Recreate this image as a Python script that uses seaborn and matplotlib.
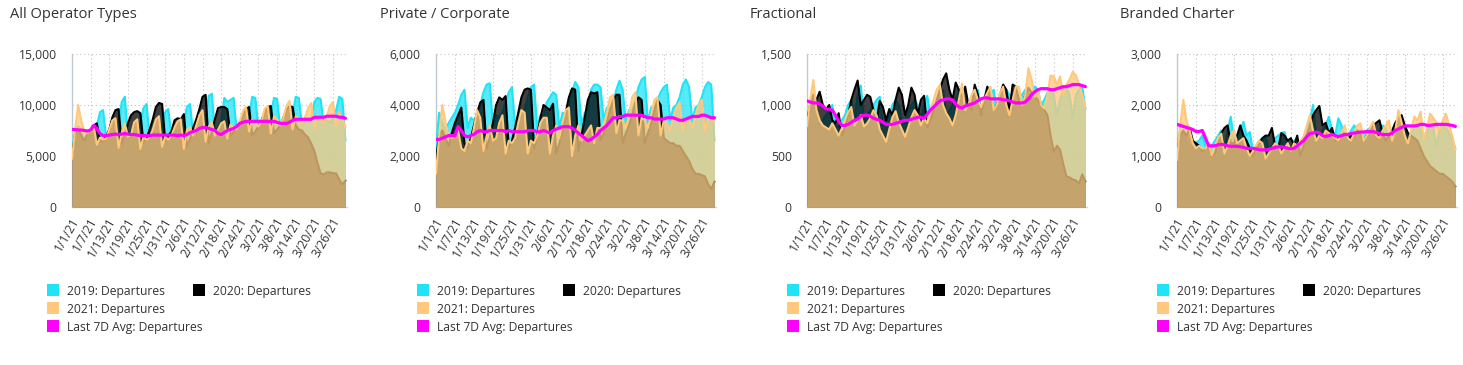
import numpy as np
import matplotlib
matplotlib.use("Agg")
import matplotlib.pyplot as plt
from matplotlib.patches import Rectangle
from matplotlib.ticker import FuncFormatter
import matplotlib.transforms as mtrans
import seaborn as sns

sns.set_theme(style="white")
plt.rcParams["font.family"] = ["Open Sans", "DejaVu Sans"]

C2019 = "#1fe3f6"
C2020 = "#000000"
C2021 = "#ffc87c"
CAVG = "#ff00ff"
TXT = "#333333"

# ---- data (daily departures, 1/1/21 .. 3/30/21, prior years aligned) ----
TICK_LABELS = ["1/1/21", "1/7/21", "1/13/21", "1/19/21", "1/25/21", "1/31/21", "2/6/21",
               "2/12/21", "2/18/21", "2/24/21", "3/2/21", "3/8/21", "3/14/21", "3/20/21", "3/26/21"]

all_2019 = [5500, 7600, 7900, 7400, 6700, 7300, 7000, 7200, 7900, 9300,
            9500, 6800, 7400, 7100, 7300, 8000, 10300, 10800, 6900, 7500,
            7200, 7400, 8100, 9700, 10100, 6800, 7400, 7100, 7400, 8000,
            9300, 9600, 6900, 7500, 7300, 7600, 8300, 9800, 10100, 7000,
            7700, 7400, 7800, 8600, 10900, 11100, 7300, 7900, 8300, 10700,
            10300, 10500, 10700, 7500, 8000, 7800, 8200, 8900, 10800, 10700,
            7700, 8200, 8000, 8400, 9000, 10700, 10600, 7800, 8300, 8100,
            8500, 9100, 10800, 10700, 8000, 8400, 8200, 8600, 10300, 10700,
            10600, 8100, 8500, 8300, 8700, 9500, 10800, 10600, 6500]
all_2020 = [5000, 7200, 7600, 7000, 6500, 7200, 7600, 8000, 8200, 6600,
            6400, 6900, 7600, 8800, 9500, 9600, 6200, 7200, 8200, 9000,
            9300, 9400, 9200, 6300, 6700, 7600, 8600, 9800, 10200, 10100,
            6500, 7000, 7400, 8500, 8700, 8600, 9100, 5900, 6700, 7800,
            8600, 9600, 10800, 11000, 6200, 7400, 8600, 9700, 9800, 9800,
            9600, 7000, 7400, 7600, 8100, 8900, 9600, 9800, 7000, 7400,
            7900, 8500, 9300, 9800, 9900, 7200, 7600, 8000, 8700, 9500,
            9900, 9800, 8000, 7600, 7500, 7100, 6800, 6200, 5500, 4300,
            3300, 3200, 3400, 3400, 3300, 3300, 2700, 2200, 2600]
all_2021 = [4700, 7600, 10000, 8400, 7400, 7200, 7600, 7900, 6100, 6800,
            6600, 6700, 7600, 8500, 8700, 5800, 7300, 8200, 6900, 7100,
            8300, 8600, 5700, 6900, 6600, 6800, 7600, 8600, 8900, 5900,
            6900, 6600, 7000, 7800, 8400, 8600, 5700, 7600, 7800, 7000,
            8000, 9000, 9500, 6400, 7900, 8300, 7000, 7600, 8200, 8400,
            6700, 8100, 7700, 7600, 8400, 9400, 9800, 7400, 8600, 8300,
            7900, 8400, 9600, 9900, 7200, 8900, 8600, 8000, 8700, 9900,
            10400, 7600, 8900, 8700, 8100, 8800, 9700, 10200, 7600, 9000,
            8800, 8200, 8900, 9900, 10300, 7900, 9300, 8700, 7800]
all_avg = [7600, 7600, 7550, 7550, 7500, 7450, 7550, 8000, 7700, 7200,
           7000, 7000, 7050, 7100, 7150, 7100, 7150, 7200, 7150, 7100,
           7100, 7050, 7000, 7000, 7000, 7000, 7050, 7050, 7050, 7050,
           7050, 7050, 7050, 7050, 7000, 7050, 7000, 7100, 7300, 7400,
           7500, 7700, 7800, 7800, 7700, 7600, 7500, 7200, 7100, 7300,
           7500, 7600, 7700, 7900, 8200, 8300, 8400, 8400, 8400, 8400,
           8400, 8400, 8400, 8400, 8400, 8400, 8300, 8200, 8200, 8200,
           8300, 8500, 8600, 8600, 8600, 8600, 8600, 8600, 8800, 8800,
           8800, 8800, 8900, 8900, 8900, 8900, 8800, 8800, 8700]

pc_2019 = [2400, 3700, 3300, 3000, 3300, 3500, 3700, 4000, 4400, 4600,
           3100, 3500, 3400, 3600, 4000, 4500, 4800, 4850, 3200, 3600,
           3500, 3700, 4100, 4500, 4700, 3200, 3600, 3500, 3800, 4300,
           4700, 4800, 3100, 3600, 3500, 4100, 4300, 4500, 4400, 3100,
           3700, 3600, 3900, 4500, 4900, 4700, 3200, 3700, 3800, 4600,
           4800, 4800, 4700, 3400, 3900, 3800, 4100, 4600, 4950, 4600,
           3300, 3800, 3800, 4200, 4700, 5000, 5100, 3300, 3900, 3900,
           4200, 4500, 4700, 4800, 3400, 3900, 4000, 4300, 4800, 5000,
           4700, 3400, 3900, 4000, 4300, 4700, 4900, 4800, 2600]
pc_2020 = [1900, 2800, 3000, 2700, 2400, 2900, 3300, 3600, 3900, 2500,
           2300, 2700, 3200, 3700, 4100, 4200, 2300, 2700, 3300, 4000,
           4300, 4200, 4350, 2300, 2600, 3100, 3700, 4300, 4600, 4650,
           4600, 2300, 2800, 3500, 4000, 3900, 3800, 4050, 2100, 2500,
           3000, 3700, 4300, 4650, 4600, 2200, 2800, 3500, 4200, 4500,
           4450, 4500, 2600, 2900, 3300, 3800, 4200, 4400, 4400, 2500,
           2900, 3200, 3600, 4100, 4300, 4200, 2500, 2900, 3300, 3800,
           4200, 4000, 2700, 2600, 2500, 2500, 2400, 2400, 2200, 2000,
           1800, 1500, 1300, 1300, 1250, 1200, 900, 700, 1000]
pc_2021 = [1300, 2800, 4000, 3300, 2800, 2700, 2800, 3000, 2300, 2200,
           2600, 2500, 3100, 3800, 3500, 2200, 2800, 3200, 2600, 2700,
           3300, 3600, 2100, 2600, 2500, 2700, 3300, 3800, 3700, 2100,
           2600, 2500, 2800, 3300, 3500, 3500, 2100, 2800, 3200, 2700,
           3300, 3800, 3900, 2000, 2800, 3200, 2600, 2800, 3000, 3200,
           2500, 3100, 3100, 3200, 3700, 4300, 4400, 2900, 3400, 3400,
           3100, 3600, 4300, 4500, 2800, 3500, 3400, 3100, 3600, 4200,
           4300, 2800, 3400, 3300, 3000, 3500, 3900, 4100, 3000, 3500,
           3400, 3100, 3600, 4000, 4200, 3000, 3500, 3400, 3350]
pc_avg = [2650, 2650, 2700, 2750, 2800, 2800, 2800, 3150, 3000, 2800,
          2750, 2800, 2850, 2950, 3000, 2950, 2950, 3000, 3000, 3000,
          3000, 3000, 2950, 3000, 2950, 2950, 2950, 2950, 2950, 3000,
          3000, 3000, 2950, 2950, 3000, 2950, 2900, 3000, 3050, 3100,
          3150, 3150, 3150, 3100, 3000, 2900, 2800, 2700, 2600, 2650,
          2750, 2850, 3000, 3100, 3200, 3350, 3500, 3500, 3550, 3550,
          3600, 3600, 3600, 3600, 3600, 3600, 3550, 3500, 3500, 3450,
          3450, 3450, 3450, 3500, 3500, 3500, 3450, 3400, 3400, 3450,
          3500, 3550, 3550, 3550, 3600, 3600, 3550, 3500, 3500]

fr_2019 = [850, 1000, 1050, 950, 800, 850, 900, 950, 1000, 780,
           800, 850, 900, 1000, 1050, 850, 1100, 1190, 850, 900,
           950, 1000, 1050, 1080, 800, 850, 900, 1000, 1050, 1000,
           820, 850, 950, 1000, 1050, 1000, 850, 1000, 1090, 900,
           950, 1000, 1100, 1150, 900, 950, 1000, 1050, 1150, 1000,
           900, 950, 1050, 1100, 1150, 950, 1000, 1050, 1100, 1150,
           950, 1000, 1050, 1150, 1100, 950, 1000, 1050, 1100, 1150,
           1000, 1100, 1180, 1150, 1000, 1050, 1120, 1150, 1100, 900,
           1050, 1150, 1180, 1100, 870, 1100, 1150, 1180, 960]
fr_2020 = [850, 1000, 1100, 1050, 1130, 1000, 950, 1000, 850, 820,
           920, 700, 780, 900, 1050, 1150, 1240, 1000, 1050, 1100,
           1080, 950, 850, 1040, 980, 850, 960, 900, 1050, 1170,
           1100, 900, 1000, 1170, 1100, 900, 1050, 1090, 780, 850,
           950, 1050, 1150, 1250, 1310, 1150, 1050, 1220, 1150, 1080,
           1180, 1000, 950, 1200, 1100, 900, 1050, 1180, 1100, 950,
           1000, 1100, 1200, 1150, 950, 1200, 1180, 1050, 1000, 1100,
           1170, 1120, 1080, 1050, 1000, 950, 900, 700, 540, 600,
           560, 420, 300, 290, 270, 260, 230, 320, 250]
fr_2021 = [790, 1050, 1245, 950, 850, 800, 780, 760, 820, 760,
           700, 770, 850, 930, 980, 800, 850, 900, 790, 820,
           870, 950, 900, 760, 700, 640, 760, 880, 940, 830,
           760, 690, 780, 880, 950, 900, 800, 870, 820, 950,
           1050, 1150, 1195, 1000, 920, 870, 800, 900, 1050, 1210,
           950, 1000, 1100, 1150, 1050, 980, 1060, 1120, 1180, 950,
           1000, 1120, 1180, 1000, 900, 1050, 1180, 1180, 1000, 1100,
           1360, 1250, 1080, 1150, 1000, 965, 1100, 1290, 1280, 1200,
           1280, 1100, 1200, 1250, 1325, 1290, 1200, 1100, 980]
fr_avg = [1040, 1030, 1020, 1020, 1010, 990, 960, 960, 950, 900,
          840, 800, 800, 810, 830, 850, 860, 890, 900, 900,
          890, 870, 860, 850, 830, 810, 810, 810, 820, 830,
          840, 850, 850, 860, 870, 880, 880, 870, 910, 950,
          980, 1010, 1040, 1050, 1060, 1060, 1050, 1010, 980, 970,
          990, 1000, 1010, 1020, 1040, 1060, 1070, 1070, 1060, 1060,
          1060, 1060, 1050, 1050, 1040, 1030, 1020, 1020, 1020, 1030,
          1060, 1100, 1130, 1150, 1160, 1160, 1160, 1150, 1150, 1160,
          1170, 1180, 1180, 1190, 1200, 1200, 1200, 1190, 1180]

bc_2019 = [1240, 1500, 1450, 1300, 1200, 1150, 1250, 1300, 1400, 1200,
           1100, 1200, 1300, 1400, 1500, 1100, 1500, 1770, 1300, 1400,
           1500, 1670, 1400, 1470, 1100, 1200, 1300, 1350, 1400, 1100,
           1200, 1350, 1400, 1450, 1470, 1200, 1150, 1300, 1350, 1200,
           1300, 1500, 1700, 2000, 1400, 1350, 1500, 1600, 1770, 1500,
           1400, 1740, 1600, 1300, 1400, 1500, 1600, 1500, 1350, 1450,
           1500, 1550, 1600, 1400, 1500, 1600, 1550, 1350, 1400, 1450,
           1500, 1550, 1500, 1400, 1450, 1550, 1600, 1500, 1300, 1450,
           1600, 1550, 1200, 1500, 1600, 1550, 1450, 1300, 1150]
bc_2020 = [1050, 1400, 1500, 1400, 1550, 1300, 1250, 1200, 1100, 1150,
           1200, 1000, 1050, 1300, 1450, 1550, 1600, 1250, 1250, 1400,
           1600, 1400, 1300, 1150, 1000, 1150, 1250, 1350, 1400, 1400,
           1550, 1200, 1150, 1450, 1400, 1300, 1350, 1200, 1400, 1000,
           1200, 1400, 1600, 1800, 1900, 1980, 1600, 1650, 1450, 1550,
           1300, 1350, 1400, 1450, 1350, 1400, 1350, 1500, 1450, 1300,
           1400, 1500, 1600, 1650, 1700, 1450, 1300, 1400, 1500, 1650,
           1750, 1800, 1600, 1450, 1400, 1350, 1300, 1150, 1000, 900,
           800, 750, 700, 650, 650, 600, 550, 500, 400]
bc_2021 = [920, 1600, 2100, 1700, 1500, 1250, 1150, 1200, 1150, 1150,
           1250, 1015, 1200, 1350, 1440, 1050, 1200, 1400, 1500, 1250,
           1300, 1350, 1150, 1000, 1100, 1200, 1300, 1250, 950, 1050,
           1150, 1250, 1200, 1050, 1150, 1250, 1100, 1250, 1200, 1300,
           1375, 1600, 1800, 1500, 1300, 1400, 1350, 1500, 1450, 1400,
           1350, 1310, 1450, 1600, 1350, 1300, 1450, 1600, 1640, 1300,
           1400, 1550, 1670, 1400, 1350, 1500, 1600, 1700, 1300, 1500,
           1900, 1650, 1400, 1245, 1500, 1770, 1700, 1870, 1310, 1550,
           1830, 1750, 1650, 1500, 1700, 1830, 1600, 1400, 1110]
bc_avg = [1620, 1600, 1580, 1560, 1540, 1520, 1480, 1480, 1500, 1350,
          1200, 1200, 1200, 1220, 1230, 1220, 1200, 1190, 1190, 1190,
          1180, 1170, 1150, 1150, 1150, 1140, 1120, 1120, 1120, 1130,
          1150, 1170, 1180, 1180, 1170, 1150, 1140, 1150, 1200, 1250,
          1300, 1380, 1440, 1450, 1470, 1450, 1400, 1380, 1400, 1420,
          1400, 1380, 1400, 1420, 1420, 1440, 1450, 1460, 1470, 1470,
          1480, 1480, 1480, 1460, 1440, 1420, 1420, 1420, 1450, 1500,
          1530, 1560, 1590, 1590, 1590, 1590, 1600, 1620, 1620, 1600,
          1600, 1610, 1620, 1620, 1620, 1620, 1610, 1600, 1580]

# ---- layout (pixels) ----
W, H = 1463, 365
fig = plt.figure(figsize=(W / 100, H / 100), dpi=100)
fig.patch.set_facecolor("white")

panels = [
    ("All Operator Types", 0, 72, 347, 15000, 5000, all_2019, all_2020, all_2021, all_avg),
    ("Private / Corporate", 370, 436, 716, 6000, 2000, pc_2019, pc_2020, pc_2021, pc_avg),
    ("Fractional", 740, 807, 1087, 1500, 500, fr_2019, fr_2020, fr_2021, fr_avg),
    ("Branded Charter", 1110, 1177, 1457, 3000, 1000, bc_2019, bc_2020, bc_2021, bc_avg),
]
TOP, BOTTOM = 54, 207

legend_items = [
    (47, 290, C2019, "2019: Departures"),
    (193, 290, C2020, "2020: Departures"),
    (47, 308, C2021, "2021: Departures"),
    (47, 326, CAVG, "Last 7D Avg: Departures"),
]

for title, ox, left, right, ymax, ystep, v19, v20, v21, vavg in panels:
    ax = fig.add_axes([left / W, 1 - BOTTOM / H, (right - left) / W, (BOTTOM - TOP) / H])
    # each series: area then its line, stacked in drawing order
    for i, (vals, col) in enumerate([(v19, C2019), (v20, C2020), (v21, C2021)]):
        x = np.arange(len(vals))
        ax.fill_between(x, vals, color=col, alpha=0.75, lw=0, zorder=2 + 2 * i)
        sns.lineplot(x=x, y=vals, ax=ax, color=col, lw=1.5, sort=False,
                     errorbar=None, legend=False, zorder=3 + 2 * i)
    sns.lineplot(x=np.arange(len(vavg)), y=vavg, ax=ax, color=CAVG, lw=2.3,
                 sort=False, errorbar=None, legend=False, zorder=10)

    ax.set_xlim(0, 88.5)
    ax.set_ylim(0, ymax)
    ax.set_yticks(np.arange(0, ymax + 1, ystep))
    ax.yaxis.set_major_formatter(FuncFormatter(lambda v, p: f"{int(v):,}"))
    ax.set_xticks(np.arange(0, 85, 6))
    ax.set_xticklabels(TICK_LABELS, rotation=60, ha="right", va="center",
                       rotation_mode="anchor")
    ax.set_xlabel("")
    ax.set_ylabel("")
    ax.tick_params(axis="both", length=0, labelsize=8.7, labelcolor=TXT)
    ax.tick_params(axis="y", pad=11)
    ax.tick_params(axis="x", pad=8)
    off = mtrans.ScaledTranslation(4 / 100, 0, fig.dpi_scale_trans)
    for lab in ax.get_xticklabels():
        lab.set_transform(lab.get_transform() + off)
    ax.grid(True, color="#c4c4c4", linestyle=(0, (1, 2.5)), lw=0.8)
    ax.set_axisbelow(True)
    for s in ["top", "right"]:
        ax.spines[s].set_visible(False)
    ax.spines["left"].set_color("#c0c8d0")
    ax.spines["bottom"].set_color("#ccd6eb")
    ax.spines["left"].set_linewidth(1.0)
    ax.spines["bottom"].set_linewidth(1.0)

    fig.text((ox + 10) / W, 1 - 14 / H, title, fontsize=10.5, color=TXT,
             ha="left", va="center")

    for lx, ly, col, lab in legend_items:
        fig.add_artist(Rectangle(((ox + lx) / W, 1 - (ly + 6) / H), 12 / W, 12 / H,
                                 transform=fig.transFigure, color=col, lw=0))
        fig.text((ox + lx + 20) / W, 1 - (ly + 1) / H, lab, fontsize=8.7,
                 color=TXT, ha="left", va="center")

fig.savefig("out.png", dpi=100, facecolor="white")
